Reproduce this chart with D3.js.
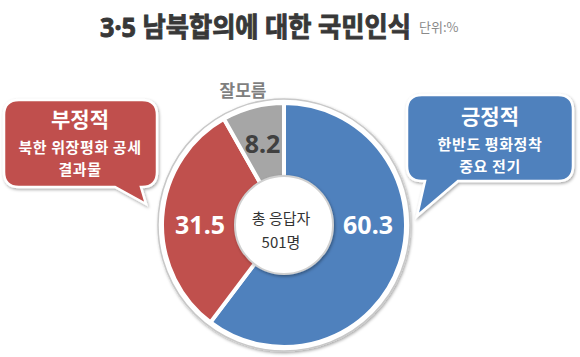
<!DOCTYPE html>
<html><head><meta charset="utf-8">
<script src="https://cdn.jsdelivr.net/npm/d3@7"></script>
<style>body{margin:0;background:#fff}svg{display:block}</style>
</head><body>
<svg id="c" width="580" height="357"></svg>
<script>
const categories = ["긍정적", "부정적", "잘모름"];
const values = [60.3, 31.5, 8.2];
const colors = ["#4f81bd", "#c0504d", "#a6a6a6"];
const labelColors = ["#ffffff", "#ffffff", "#404040"];
const title = "3·5 남북합의에 대한 국민인식";
const unit = "단위:%";
const centerText = ["총 응답자", "501명"];
const posLines = ["한반도 평화정착", "중요 전기"];
const negLines = ["북한 위장평화 공세", "결과물"];

const svg = d3.select("#c");
const defs = svg.append("defs");
const f = defs.append("filter").attr("id","sh").attr("x","-20%").attr("y","-20%").attr("width","140%").attr("height","140%");
f.append("feDropShadow").attr("dx",1).attr("dy",1.5).attr("stdDeviation",1.5).attr("flood-color","#000").attr("flood-opacity",0.35);

const KR = "'Noto Sans CJK KR','Noto Sans',sans-serif";

// Title (horizontally condensed to the reference width)
const tg = svg.append("g");
const tt = tg.append("text").attr("x",0).attr("y",0).attr("font-family","'Noto Sans','Noto Sans CJK KR',sans-serif").attr("font-weight",700)
  .attr("font-size",27).attr("fill","#383838").attr("stroke","#383838").attr("stroke-width",0.9).text(title);
const tw = tt.node().getComputedTextLength();
tg.attr("transform",`translate(100,37) scale(${311/tw},1)`);
svg.append("text").attr("x",419).attr("y",32).attr("font-family",KR).attr("font-size",13)
  .attr("fill","#8a8a8a").text(unit);

// Pie
const cx = 284, cy = 225, R = 122, r0 = 47;
const g = svg.append("g").attr("transform",`translate(${cx},${cy})`);
g.append("circle").attr("r",R+4).attr("fill","#fff").attr("stroke","#c8c8c8").attr("stroke-width",1.5).attr("filter","url(#sh)");
const pie = d3.pie().sort(null).value(d=>d);
const arcs = pie(values);
const arc = d3.arc().innerRadius(0).outerRadius(R);
g.selectAll("path.s").data(arcs).join("path").attr("class","s")
  .attr("d",arc).attr("fill",(d,i)=>colors[i]).attr("stroke","#fff").attr("stroke-width",4).attr("stroke-linejoin","round");
g.append("circle").attr("r",r0+2).attr("fill","#fff").attr("stroke","#d0d0d0").attr("stroke-width",2).attr("filter","url(#sh)");
g.append("circle").attr("r",r0-2).attr("fill","#fff");

// label placement: on the horizontal axis if the slice spans it, else at mid-angle
const LR = 84;
function labelPos(d){
  let a = (d.startAngle + d.endAngle)/2;
  for (const h of [Math.PI/2, 3*Math.PI/2]) if (d.startAngle < h && d.endAngle > h) a = h;
  return [Math.sin(a)*LR, -Math.cos(a)*LR];
}
g.selectAll("text.v").data(arcs).join("text").attr("class","v")
  .attr("transform",d=>{const c=labelPos(d); return `translate(${c[0]},${c[1]})`;})
  .attr("text-anchor","middle").attr("dy","0.36em")
  .attr("font-family","'Noto Sans',sans-serif").attr("font-weight",700).attr("font-size",25)
  .attr("fill",(d,i)=>labelColors[i]).text(d=>d.data.toFixed(1));

const ct = g.append("text").attr("text-anchor","middle").attr("font-family",KR)
  .attr("font-size",15).attr("fill","#333");
ct.selectAll("tspan").data(centerText).join("tspan").attr("x",-3).attr("y",(d,i)=>-1+i*24).text(d=>d);

// 잘모름 label
svg.append("text").attr("x",243).attr("y",97).attr("text-anchor","middle").attr("font-family",KR)
  .attr("font-weight",700).attr("font-size",17).attr("fill","#7f7f7f").text(categories[2]);

// Callouts
function callout(x0,y0,x1,y1,r,bx0,bx1,tx,ty){
  return `M${x0+r},${y0}H${x1-r}Q${x1},${y0} ${x1},${y0+r}V${y1-r}Q${x1},${y1} ${x1-r},${y1}`+
    `H${bx1}L${tx},${ty}L${bx0},${y1}H${x0+r}Q${x0},${y1} ${x0},${y1-r}V${y0+r}Q${x0},${y0} ${x0+r},${y0}Z`;
}
svg.append("path").attr("d",callout(4,100,157,187,15,115,141,146,204)).attr("fill",colors[1])
  .attr("stroke","#fff").attr("stroke-width",2.5).attr("filter","url(#sh)");
svg.append("path").attr("d",callout(407,95,573,181,15,425,458,417,216)).attr("fill",colors[0])
  .attr("stroke","#fff").attr("stroke-width",2.5).attr("filter","url(#sh)");

function block(x,y,head,lines){
  const t = svg.append("text").attr("text-anchor","middle").attr("font-family",KR)
    .attr("font-weight",700).attr("fill","#fff");
  const all = [head].concat(lines);
  t.selectAll("tspan").data(all).join("tspan").attr("x",x)
    .attr("y",(d,i)=> i===0 ? y : y+26+(i-1)*22)
    .attr("letter-spacing",(d,i)=> i===0 ? 0 : 0.6)
    .attr("font-size",(d,i)=> i===0 ? 21 : 15).text(d=>d);
}
block(80,127,categories[1],negLines);
block(490,124,categories[0],posLines);
</script>
</body></html>
